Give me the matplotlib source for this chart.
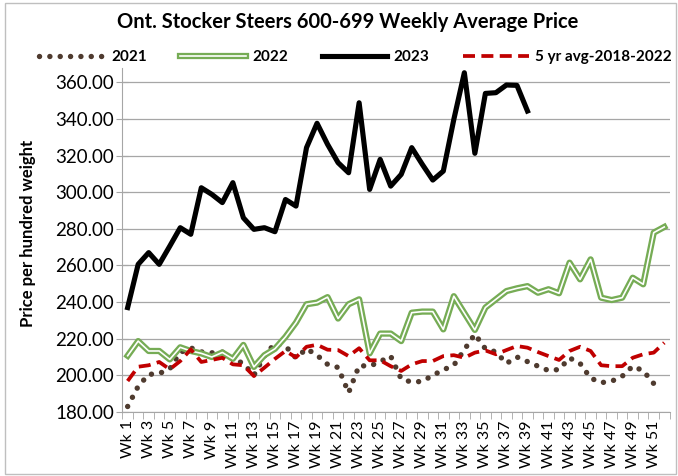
import numpy as np
import matplotlib
matplotlib.use('Agg')
import matplotlib.pyplot as plt
import matplotlib.patheffects as pe
from matplotlib.patches import Rectangle

# weekly prices, $ per hundred weight
weeks = ['Wk %d' % i for i in range(1, 53)]

y2021 = [183, 194, 200.5, 201, 203.5, 212.5, 215, 212.8, 212.3, 212.7,
         209, 206.5, 200, 210.6, 217.5, 216, 209.5, 214.5, 211, 206,
         204.3, 190.5, 205.3, 205, 207.5, 210.5, 198, 196.3, 196.7, 200,
         203, 205.5, 214, 222.5, 214.5, 212.8, 206.5, 210, 207.5, 205,
         202.6, 203.2, 209.5, 206.5, 198.5, 196, 196.8, 199.5, 205, 202.5,
         195.5, np.nan]

y2022 = [210.7, 218.7, 213.3, 213.3, 208.7, 215.3, 213.3, 212, 210, 212.5,
         209, 216.6, 204.6, 211, 214.5, 221, 228.8, 238.8, 239.7, 242.7,
         231, 238.8, 241.5, 212, 222.8, 222.8, 218.7, 234.2, 234.8, 234.8,
         225.1, 243.2, 234, 224.8, 237, 241.5, 246, 247.5, 248.7, 245.1,
         247, 244.8, 261.5, 252.4, 263.3, 242.4, 241.1, 242.4, 253.3, 249.7,
         277.9, 281]

y2023 = [237, 260.6, 267, 260.6, 270.5, 280.6, 277, 302.4, 298.8, 294.3,
         305.2, 286, 279.7, 280.6, 278.4, 296, 292.4, 324.3, 337.6, 326.1,
         316.1, 310.6, 348.8, 301.5, 317.9, 303.3, 309.7, 324.3, 315.2, 306.6,
         311.5, 339.7, 365.2, 321.2, 353.9, 354.3, 358.5, 358.3, 344.3]

avg5 = [196.9, 204.7, 205.5, 207.3, 203.3, 207.8, 214.2, 207.3, 208.4, 209.6,
        206, 205.5, 199.6, 204.2, 209, 213.3, 209.8, 215.6, 216.7, 214,
        213.8, 210.5, 214.8, 208.2, 208.2, 205, 202.4, 206, 207.8, 207.8,
        210.5, 211, 209.6, 212.4, 213.6, 211.5, 213.8, 216, 215.1, 212.7,
        210.5, 208.4, 213.3, 215.6, 213.3, 205.5, 205, 205, 209.6, 211.5,
        212.4, 217.8]

plt.rcParams['font.family'] = ['Lato', 'DejaVu Sans']

fig = plt.figure(figsize=(6.78, 4.76), dpi=100)
ax = fig.add_axes([0.1805, 0.1345, 0.807, 0.7235])

x = np.arange(1, 53)
ax.plot(x, y2021, color='#4F3B2F', lw=3.9, linestyle=(0, (0.01, 1.9)),
        dash_capstyle='round', label='2021')
ax.plot(x, y2022, color='white', lw=1.2, label='2022',
        path_effects=[pe.Stroke(linewidth=4.5, foreground='#76AC55'), pe.Normal()])
ax.plot(x[:len(y2023)], y2023, color='black', lw=3.7, solid_joinstyle='round',
        label='2023')
ax.plot(x, avg5, color='#C00000', lw=2.7, linestyle=(0, (3.2, 1.7)),
        label='5 yr avg-2018-2022')

ax.set_xlim(0.5, 52.5)
ax.set_ylim(180, 368)
ax.set_yticks(np.arange(180, 361, 20))
ax.set_yticklabels(['%.2f' % v for v in np.arange(180, 361, 20)], fontsize=13.5)
ax.yaxis.grid(True, color='#A6A6A6', lw=0.9)
ax.set_axisbelow(True)

ax.set_xticks(x[::2])
ax.set_xticklabels(weeks[::2], rotation=90, fontsize=11.5)
ax.set_xticks(np.arange(0.5, 53, 1), minor=True)
ax.tick_params(axis='x', which='major', length=0, pad=6)
ax.tick_params(axis='x', which='minor', length=5, color='#A6A6A6', direction='out')
ax.tick_params(axis='y', length=8, color='#A6A6A6', direction='inout', pad=2)

for s in ['top', 'right']:
    ax.spines[s].set_visible(False)
for s in ['left', 'bottom']:
    ax.spines[s].set_color('#A6A6A6')

fig.text(0.513, 0.954, 'Ont. Stocker Steers 600-699 Weekly Average Price',
         ha='center', va='center', fontsize=14.5, fontweight='bold')
fig.text(0.041, 0.51, 'Price per hundred weight', rotation=90,
         ha='center', va='center', fontsize=12, fontweight='bold')

leg = ax.legend(loc='center', bbox_to_anchor=(0.524, 0.88), bbox_transform=fig.transFigure,
                ncol=4, frameon=False, handlelength=4.3, handletextpad=0.4,
                columnspacing=2.2, prop={'weight': 'bold', 'size': 11})

fig.patches.append(Rectangle((5 / 678, 2 / 476), 671 / 678, 471 / 476,
                             transform=fig.transFigure, fill=False,
                             edgecolor='#BFBFBF', lw=1))

fig.savefig('out.png', dpi=100)
